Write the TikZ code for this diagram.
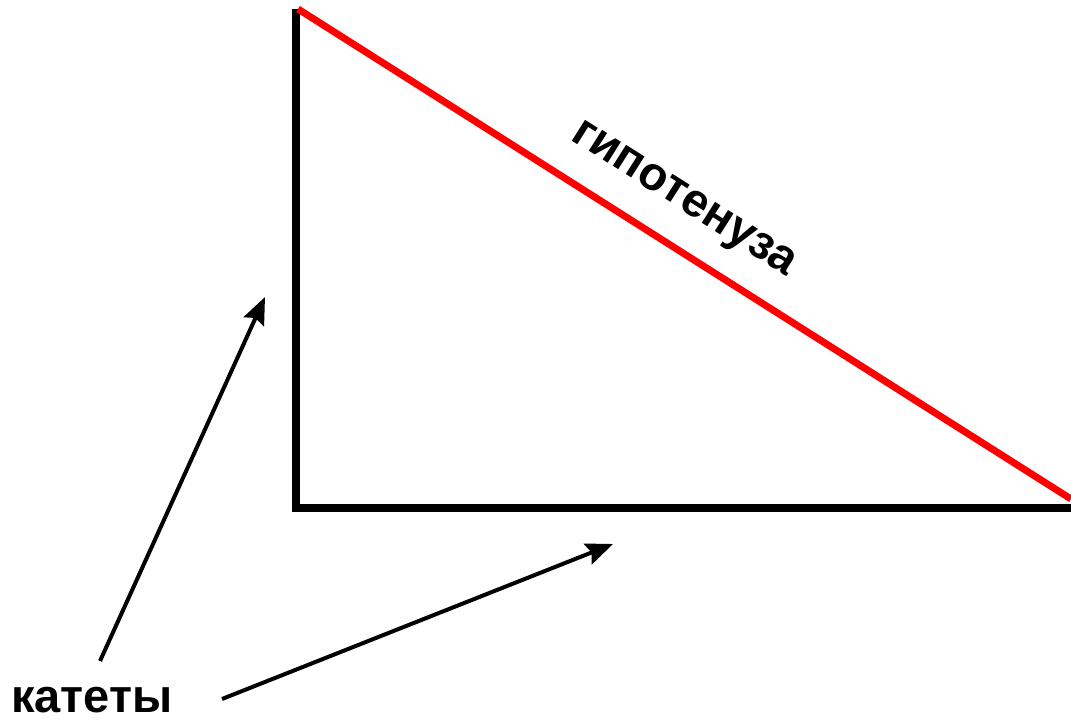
\documentclass[tikz,border=0pt]{standalone}
\usepackage{fontspec}
\setmainfont{Liberation Sans}
\usetikzlibrary{arrows.meta, positioning}
\definecolor{hypred}{HTML}{FF0000}

\begin{document}
\begin{tikzpicture}[x=1pt, y=-1pt, >=Latex]
  \tikzstyle{leg}=[line width=8pt, draw=black, line join=miter]
  \tikzstyle{hypline}=[line width=7pt, draw=hypred]
  \tikzstyle{lbl}=[font=\fontsize{47}{52}\selectfont\bfseries, inner sep=0pt, outer sep=0pt]
  \tikzstyle{arr}=[-{Stealth[length=27pt, width=22pt, inset=4pt]}, line width=4pt]

  \useasboundingbox (0,0) rectangle (1071,721);

  \coordinate (top) at (296,9);
  \coordinate (corner) at (296,508);
  \coordinate (right) at (1071,508);
  \coordinate (hstart) at (298,9);
  \coordinate (hend) at (1071,499);

  \draw[leg] (top) -- (corner) -- (right);
  \draw[hypline] (hstart) -- node[lbl, pos=0.467, sloped, above=26pt]{гипотенуза} (hend);

  \node[lbl, anchor=base west] (kat) at (11,712) {катеты};
  \coordinate (tail1) at (100,661);
  \coordinate (tip1) at (265,297);
  \coordinate (tail2) at (222,699);
  \coordinate (tip2) at (613,544);

  \draw[arr] (tail1) -- (tip1);
  \draw[arr] (tail2) -- (tip2);
\end{tikzpicture}
\end{document}
